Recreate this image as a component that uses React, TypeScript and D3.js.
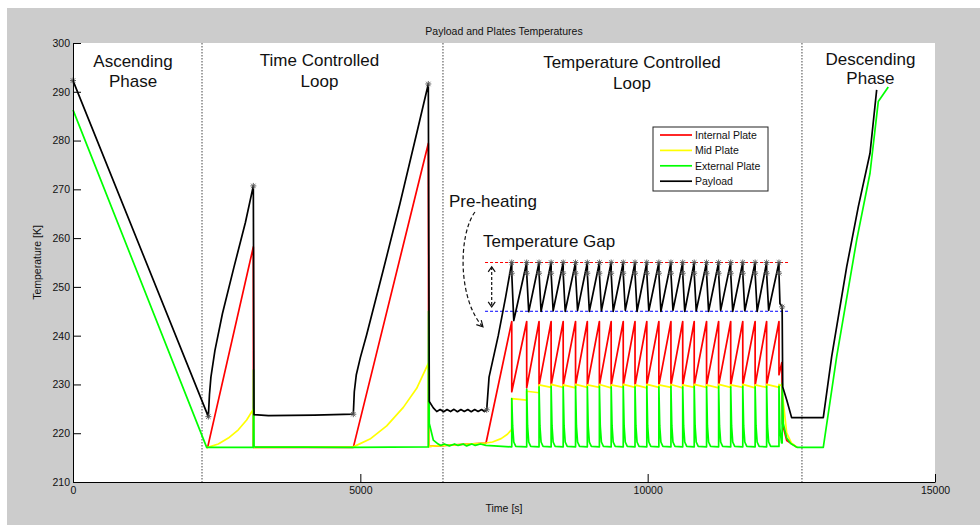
import React, { useEffect, useRef } from "react";
import * as d3 from "d3";

type Pt = [number, number];

// axes
const xTicks = [0, 5000, 10000, 15000];
const yTicks = [210, 220, 230, 240, 250, 260, 270, 280, 290, 300];

// phase boundaries (s) and temperature gap limits (K)
const phaseBounds = [2245, 6438, 12685];
const gapUpper = 255;
const gapLower = 245;
const gapSpan = [7170, 12475];

// peak times of the temperature controlled cycles (s)
const cycleTimes = [
  7635, 7895, 8110, 8320, 8530, 8745, 8950, 9160, 9365, 9575, 9780, 9985,
  10195, 10405, 10610, 10810, 11025, 11235, 11445, 11655, 11870, 12070, 12285,
];

// ---- Payload
const payloadPeak = 255.0;
const payloadCutoff = 252.8;
const payloadStart: Pt[] = [
  [0, 292.3], [2355, 223.4], [2375, 228.0], [2400, 231.5], [2470, 237.0],
  [2600, 244.5], [2800, 254.0], [3000, 263.2], [3138, 270.7], [3150, 223.8],
  [3400, 223.6], [4200, 223.7], [4878, 223.9], [4895, 228.5], [4930, 232.0],
  [5000, 235.5], [5110, 240.2], [5400, 253.5], [5690, 267.1], [5981, 281.5],
  [6183, 291.6], [6200, 226.5], [6270, 225.2],
];
const payloadWait: Pt[] = [
  [6330, 224.45], [6390, 224.85], [6450, 224.4], [6510, 224.85], [6570, 224.45],
  [6630, 224.9], [6690, 224.4], [6750, 224.85], [6810, 224.45], [6870, 224.85],
  [6930, 224.4], [6990, 224.85], [7050, 224.45], [7110, 224.85], [7160, 224.45],
  [7199, 224.8],
];
const payloadPreheat: Pt[] = [[7240, 231.5], [7400, 240.0], [7530, 248.0]];
const payloadTroughs: Pt[] = [
  [7670, 243.1], [7930, 244.9], [8145, 245.0], [8355, 245.1], [8565, 245.0],
  [8780, 245.2], [8985, 245.0], [9195, 245.1], [9400, 245.0], [9610, 245.2],
  [9815, 245.0], [10020, 245.1], [10230, 245.0], [10440, 245.2], [10645, 245.0],
  [10845, 245.1], [11060, 245.0], [11270, 245.2], [11480, 245.0], [11690, 245.1],
  [11905, 245.0], [12105, 245.2],
];
const payloadEnd: Pt[] = [
  [12302, 246.6], [12340, 245.9], [12350, 229.5], [12420, 226.8], [12505, 223.2],
  [13056, 223.2], [13202, 235.7], [13463, 254.1], [13665, 266.4], [13869, 277.4],
  [13985, 290.4],
];
const payloadStars: Pt[] = [
  [0, 292.3], [2355, 223.4], [3138, 270.7], [4878, 223.9], [6183, 291.6],
  [7199, 224.8], [12340, 245.9],
];

// ---- Internal plate
const internalStart: Pt[] = [
  [2326, 217.1], [2343, 217.1], [3138, 258.2], [3140, 217.1], [4878, 217.1],
  [6183, 279.4], [6190, 217.3], [7187, 218.0],
];
const internalPeaks = [
  242.9, 242.9, 242.9, 242.9, 242.9, 242.9, 242.9, 242.9, 242.9, 242.9, 242.9, 242.9,
  242.9, 242.9, 242.9, 242.9, 242.9, 242.9, 242.9, 242.9, 242.9, 242.9, 242.9,
];
const internalLows = [
  228.5, 229.3, 229.8, 229.8, 229.8, 229.8, 229.8, 229.8, 229.8, 229.8, 229.8,
  229.8, 229.8, 229.8, 229.8, 229.8, 229.8, 229.8, 229.8, 229.8, 229.8, 229.8,
];
const internalEnd: Pt[] = [
  [12285, 232.0], [12335, 234.5], [12345, 222.0], [12420, 218.5], [12600, 217.1],
];

// ---- Mid plate
const midStart: Pt[] = [
  [2326, 217.1], [2343, 217.1], [2529, 217.8], [2703, 219.0], [2877, 220.7],
  [3022, 222.7], [3138, 224.9], [3140, 217.1], [4878, 217.2], [5168, 218.8],
  [5459, 221.5], [5748, 225.3], [5981, 229.2], [6183, 234.3], [6190, 217.3],
  [7187, 218.0], [7300, 218.2], [7450, 218.9], [7560, 219.8], [7635, 220.8],
];
const midHighs = [
  227.1, 228.6, 229.9, 230.0, 229.9, 230.0, 229.9, 230.0, 229.9, 230.0, 229.9,
  230.0, 229.9, 230.0, 229.9, 230.0, 229.9, 230.0, 229.9, 230.0, 229.9, 230.0,
];
const midLows = [
  226.8, 228.3, 229.4, 229.4, 229.3, 229.4, 229.4, 229.3, 229.4, 229.4, 229.3,
  229.4, 229.4, 229.3, 229.4, 229.4, 229.3, 229.4, 229.4, 229.3, 229.4, 229.4,
];
const midEnd: Pt[] = [
  [12285, 230.0], [12340, 229.7], [12350, 227.5], [12420, 220.0], [12500, 218.0],
  [12600, 217.1],
];

// ---- External plate
const externalStart: Pt[] = [
  [0, 286.3], [2326, 217.1], [3138, 217.1], [3142, 233.0], [3150, 217.2],
  [4878, 217.1], [6183, 217.2], [6188, 245.0], [6200, 222.0], [6270, 218.6],
  [6340, 217.9], [6400, 217.5], [6460, 217.8], [6550, 217.4], [6640, 217.8],
  [6700, 217.5], [6790, 217.8], [6850, 217.4], [6940, 217.8], [7000, 217.5],
  [7090, 217.8], [7187, 217.5],
];
const externalBase = 217.2;
const externalSpikes = [
  227.1, 229.0, 229.5, 229.6, 229.5, 229.6, 229.5, 229.6, 229.5, 229.6, 229.5,
  229.6, 229.5, 229.6, 229.5, 229.6, 229.5, 229.6, 229.5, 229.6, 229.5, 229.6,
];
const spikeDecay: Pt[] = [[15, 221.5], [35, 218.2], [70, 217.3]];
const externalEnd: Pt[] = [
  [12285, 217.3], [12285, 229.6], [12300, 221.0], [12330, 218.0], [12340, 218.0],
  [12342, 230.2], [12360, 222.0], [12420, 219.0], [12490, 217.9], [12600, 217.1],
  [13056, 217.1], [13289, 235.7], [13637, 259.6], [13869, 273.3], [14013, 288.0],
  [14187, 291.0],
];

const legendItems = [
  { label: "Internal Plate", color: "#FF0000" },
  { label: "Mid Plate", color: "#FFFF00" },
  { label: "External Plate", color: "#00FF00" },
  { label: "Payload", color: "#000000" },
];

// phase captions: centre time and the two baselines (K)
const phaseLabels = [
  { lines: ["Ascending", "Phase"], t: 1044, T: [295.1, 291.0] },
  { lines: ["Time Controlled", "Loop"], t: 4289, T: [295.3, 291.0] },
  { lines: ["Temperature Controlled", "Loop"], t: 9727, T: [294.9, 290.6] },
  { lines: ["Descending", "Phase"], t: 13877, T: [295.5, 291.5] },
];

const FONT = "'Liberation Sans', Arial, Helvetica, sans-serif";

export default function App() {
  const ref = useRef<SVGSVGElement>(null);

  useEffect(() => {
    const svg = d3.select(ref.current);
    svg.selectAll("*").remove();

    const x = d3.scaleLinear().domain([0, 15000]).range([73, 935]);
    const y = d3.scaleLinear().domain([210, 300]).range([482, 43]);
    const line = d3
      .line<Pt>()
      .x((d) => x(d[0]))
      .y((d) => y(d[1]));

    // build series
    const payload: Pt[] = [...payloadStart, ...payloadWait, ...payloadPreheat];
    cycleTimes.forEach((t, i) => {
      payload.push([t, payloadPeak], [t, payloadCutoff]);
      if (i < payloadTroughs.length) payload.push(payloadTroughs[i]);
    });
    payload.push(...payloadEnd);

    const internal: Pt[] = [...internalStart];
    cycleTimes.forEach((t, i) => {
      internal.push([t, internalPeaks[i]]);
      if (i < internalLows.length) internal.push([t, internalLows[i]]);
    });
    internal.push(...internalEnd);

    const mid: Pt[] = [...midStart];
    midHighs.forEach((h, i) => {
      mid.push([cycleTimes[i], h], [cycleTimes[i + 1], midLows[i]]);
    });
    mid.push(...midEnd);

    const external: Pt[] = [...externalStart];
    externalSpikes.forEach((s, i) => {
      const t = cycleTimes[i];
      external.push([t, externalBase], [t, s]);
      spikeDecay.forEach((d) => external.push([t + d[0], d[1]]));
    });
    external.push(...externalEnd);

    // background
    svg
      .append("rect")
      .attr("x", 7)
      .attr("y", 8)
      .attr("width", 973)
      .attr("height", 517)
      .attr("fill", "#CCCCCC");
    svg
      .append("rect")
      .attr("x", x(0))
      .attr("y", y(300))
      .attr("width", x(15000) - x(0))
      .attr("height", y(210) - y(300))
      .attr("fill", "#FFFFFF");

    // phase separators
    svg
      .selectAll("line.phase")
      .data(phaseBounds)
      .enter()
      .append("line")
      .attr("x1", (d) => x(d))
      .attr("x2", (d) => x(d))
      .attr("y1", y(300))
      .attr("y2", y(210))
      .attr("stroke", "#444")
      .attr("stroke-width", 1)
      .attr("stroke-dasharray", "1.5,1.5");

    // gap limits
    [
      { v: gapUpper, c: "#FF0000" },
      { v: gapLower, c: "#0000FF" },
    ].forEach((g) => {
      svg
        .append("line")
        .attr("x1", x(gapSpan[0]))
        .attr("x2", x(gapSpan[1]))
        .attr("y1", y(g.v))
        .attr("y2", y(g.v))
        .attr("stroke", g.c)
        .attr("stroke-width", 1)
        .attr("stroke-dasharray", "3,2");
    });

    // series
    [
      { d: internal, c: "#FF0000" },
      { d: mid, c: "#FFFF00" },
      { d: external, c: "#00FF00" },
      { d: payload, c: "#000000" },
    ].forEach((s) => {
      svg
        .append("path")
        .attr("d", line(s.d))
        .attr("fill", "none")
        .attr("stroke", s.c)
        .attr("stroke-width", 1.7)
        .attr("stroke-linejoin", "round");
    });

    // star markers
    const stars: Pt[] = [...payloadStars];
    cycleTimes.forEach((t) => stars.push([t, payloadPeak], [t, payloadCutoff]));
    svg
      .selectAll("path.star")
      .data(stars)
      .enter()
      .append("path")
      .attr("transform", (d) => `translate(${x(d[0])},${y(d[1])})`)
      .attr("d", "M-3,0H3M0,-3V3M-2.2,-2.2L2.2,2.2M-2.2,2.2L2.2,-2.2")
      .attr("stroke", "#555")
      .attr("stroke-width", 0.9)
      .attr("fill", "none");

    // axes
    const yAxis = svg
      .append("g")
      .attr("transform", `translate(${x(0)},0)`)
      .call(
        d3.axisLeft(y).tickValues(yTicks).tickSizeInner(-8).tickSizeOuter(0).tickPadding(3)
      );
    const xAxis = svg
      .append("g")
      .attr("transform", `translate(0,${y(210)})`)
      .call(
        d3
          .axisBottom(x)
          .tickValues(xTicks)
          .tickFormat(d3.format("d"))
          .tickSizeInner(-8)
          .tickSizeOuter(0)
          .tickPadding(5)
      );
    [yAxis, xAxis].forEach((a) => {
      a.selectAll("text")
        .style("font-family", FONT)
        .style("font-size", "10.5px")
        .attr("fill", "#111");
      a.selectAll("line").attr("stroke", "#000");
      a.select(".domain").attr("stroke", "#000");
    });

    // titles
    svg
      .append("text")
      .attr("x", (x(0) + x(15000)) / 2)
      .attr("y", 34.5)
      .attr("text-anchor", "middle")
      .style("font-family", FONT)
      .style("font-size", "10.5px")
      .attr("fill", "#111")
      .text("Payload and Plates Temperatures");
    svg
      .append("text")
      .attr("x", (x(0) + x(15000)) / 2)
      .attr("y", 512)
      .attr("text-anchor", "middle")
      .style("font-family", FONT)
      .style("font-size", "10.5px")
      .attr("fill", "#111")
      .text("Time [s]");
    svg
      .append("text")
      .attr("transform", `translate(41,${(y(210) + y(300)) / 2}) rotate(-90)`)
      .attr("text-anchor", "middle")
      .style("font-family", FONT)
      .style("font-size", "10.5px")
      .attr("fill", "#111")
      .text("Temperature [K]");

    // phase captions
    phaseLabels.forEach((p) => {
      p.lines.forEach((l, i) => {
        svg
          .append("text")
          .attr("x", x(p.t))
          .attr("y", y(p.T[i]))
          .attr("text-anchor", "middle")
          .style("font-family", FONT)
          .style("font-size", "17px")
          .attr("fill", "#111")
          .text(l);
      });
    });

    // annotations
    svg
      .append("text")
      .attr("x", x(6543))
      .attr("y", y(266.4))
      .style("font-family", FONT)
      .style("font-size", "17px")
      .attr("fill", "#111")
      .text("Pre-heating");
    svg
      .append("text")
      .attr("x", x(7134))
      .attr("y", y(258.2))
      .style("font-family", FONT)
      .style("font-size", "17px")
      .attr("fill", "#111")
      .text("Temperature Gap");

    const p0: Pt = [x(6995), y(265.35)];
    const c1: Pt = [x(6699), y(260.6)];
    const c2: Pt = [x(6699), y(247.3)];
    const p1: Pt = [x(7134), y(241.8)];
    const curve = d3.path();
    curve.moveTo(p0[0], p0[1]);
    curve.bezierCurveTo(c1[0], c1[1], c2[0], c2[1], p1[0], p1[1]);
    svg
      .append("path")
      .attr("d", curve.toString())
      .attr("fill", "none")
      .attr("stroke", "#111")
      .attr("stroke-width", 1.2)
      .attr("stroke-dasharray", "4,2.5");
    const ang = Math.atan2(p1[1] - c2[1], p1[0] - c2[0]);
    const wing = (a: number) => [p1[0] - 7 * Math.cos(ang + a), p1[1] - 7 * Math.sin(ang + a)];
    const w1 = wing(0.5);
    const w2 = wing(-0.5);
    svg
      .append("path")
      .attr("d", `M${w1[0]},${w1[1]}L${p1[0]},${p1[1]}L${w2[0]},${w2[1]}`)
      .attr("fill", "none")
      .attr("stroke", "#111")
      .attr("stroke-width", 1.2);

    const gx = x(7286);
    const gTop = y(254.1);
    const gBot = y(245.9);
    svg
      .append("line")
      .attr("x1", gx)
      .attr("x2", gx)
      .attr("y1", gTop)
      .attr("y2", gBot)
      .attr("stroke", "#111")
      .attr("stroke-width", 1.2)
      .attr("stroke-dasharray", "3,2");
    svg
      .append("path")
      .attr(
        "d",
        `M${gx - 3.5},${gTop + 5}L${gx},${gTop}L${gx + 3.5},${gTop + 5}` +
          `M${gx - 3.5},${gBot - 5}L${gx},${gBot}L${gx + 3.5},${gBot - 5}`
      )
      .attr("fill", "none")
      .attr("stroke", "#111")
      .attr("stroke-width", 1.2);

    // legend
    const lg = svg.append("g").attr("transform", "translate(653,127)");
    lg.append("rect")
      .attr("width", 115)
      .attr("height", 64)
      .attr("fill", "#FFFFFF")
      .attr("stroke", "#222")
      .attr("stroke-width", 1);
    legendItems.forEach((it, i) => {
      const ly = 8 + i * 15.4;
      lg.append("line")
        .attr("x1", 7)
        .attr("x2", 39)
        .attr("y1", ly)
        .attr("y2", ly)
        .attr("stroke", it.color)
        .attr("stroke-width", 1.7);
      lg.append("text")
        .attr("x", 42)
        .attr("y", ly + 3.8)
        .style("font-family", FONT)
        .style("font-size", "10.5px")
        .attr("fill", "#111")
        .text(it.label);
    });
  }, []);

  return (
    <svg
      ref={ref}
      width={980}
      height={525}
      style={{ position: "absolute", left: 0, top: 0, display: "block" }}
    />
  );
}
